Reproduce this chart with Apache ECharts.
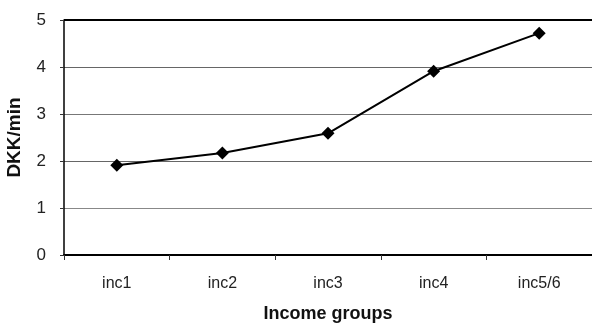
<!DOCTYPE html>
<html>
<head>
<meta charset="utf-8">
<script src="https://cdn.jsdelivr.net/npm/echarts@6/dist/echarts.min.js"></script>
<style>
  html, body { margin: 0; padding: 0; background: #fff; }
  #chart { width: 592px; height: 323px; }
</style>
</head>
<body>
<div id="chart"></div>
<script>
// Income groups and cost of time per group
const categories = ['inc1', 'inc2', 'inc3', 'inc4', 'inc5/6'];
const dkkPerMin = [1.91, 2.17, 2.59, 3.91, 4.72];
const yTicks = [0, 1, 2, 3, 4, 5];

const chart = echarts.init(document.getElementById('chart'));
const font = '"Liberation Sans", Arial, sans-serif';

chart.setOption({
  animation: false,
  grid: { left: 64, right: 0, top: 20, bottom: 68, containLabel: false, outerBoundsMode: 'none' },
  xAxis: {
    type: 'category',
    data: categories,
    boundaryGap: true,
    name: 'Income groups',
    nameLocation: 'middle',
    nameGap: 50,
    nameTextStyle: { fontFamily: font, fontSize: 18, fontWeight: 'bold', color: '#111' },
    axisLine: { lineStyle: { color: '#000', width: 2 } },
    axisTick: { show: true, length: 5, lineStyle: { color: '#333', width: 1 } },
    axisLabel: { fontFamily: font, fontSize: 16, color: '#222', margin: 21 },
    splitLine: { show: false }
  },
  yAxis: {
    type: 'value',
    min: yTicks[0],
    max: yTicks[yTicks.length - 1],
    interval: 1,
    name: 'DKK/min',
    nameLocation: 'middle',
    nameGap: 40,
    nameRotate: 90,
    nameTextStyle: { fontFamily: font, fontSize: 19, fontWeight: 'bold', color: '#111' },
    axisLine: { show: true, lineStyle: { color: '#000', width: 1.5 } },
    axisTick: { show: true, length: 4, lineStyle: { color: '#333' } },
    axisLabel: { fontFamily: font, fontSize: 17, color: '#222', margin: 18 },
    splitLine: {
      show: true,
      lineStyle: { color: ['#777', '#888', '#666', '#777', '#666', '#000'], width: 1 }
    }
  },
  series: [{
    type: 'line',
    data: dkkPerMin,
    symbol: 'diamond',
    symbolSize: 13,
    itemStyle: { color: '#000' },
    lineStyle: { color: '#000', width: 2 },
    // heavier top edge of the plot area
    markLine: {
      silent: true,
      symbol: 'none',
      label: { show: false },
      lineStyle: { color: '#000', width: 2, type: 'solid' },
      data: [{ yAxis: yTicks[yTicks.length - 1] }]
    }
  }]
});
</script>
</body>
</html>
